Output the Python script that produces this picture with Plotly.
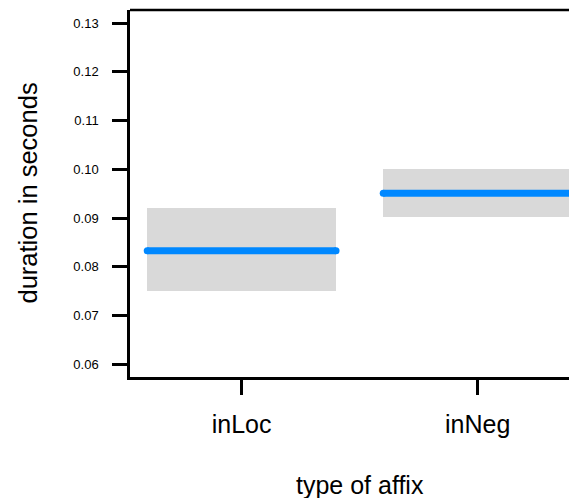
import plotly.graph_objects as go

categories = ["inLoc", "inNeg"]
fit = [0.0833, 0.0951]
lower = [0.0750, 0.0903]
upper = [0.0920, 0.1000]
y_ticks = [0.06, 0.07, 0.08, 0.09, 0.10, 0.11, 0.12, 0.13]
y_ticktext = ["0.06", "0.07", "0.08", "0.09", "0.10", "0.11", "0.12", "0.13"]

BAND = "#D9D9D9"
BLUE = "#0088FF"
HALF = 0.4

xpos = list(range(1, len(categories) + 1))

fig = go.Figure()
fig.add_trace(go.Bar(
    x=xpos,
    y=[u - l for u, l in zip(upper, lower)],
    base=lower,
    width=2 * HALF,
    marker=dict(color=BAND, line=dict(width=0)),
    hoverinfo="skip",
    showlegend=False,
))
for xi, f in zip(xpos, fit):
    fig.add_trace(go.Scatter(
        x=[xi - HALF, xi + HALF],
        y=[f, f],
        mode="lines+markers",
        line=dict(color=BLUE, width=7),
        marker=dict(color=BLUE, size=7, line=dict(width=0)),
        showlegend=False,
        hoverinfo="skip",
    ))

fig.add_shape(type="line", xref="paper", yref="paper", x0=0, x1=1, y0=1, y1=1,
              line=dict(color="black", width=2.5))

fig.add_annotation(text="duration in seconds", xref="paper", yref="paper",
                   x=-0.2304, y=0.5, textangle=-90, showarrow=False,
                   xanchor="center", yanchor="middle",
                   font=dict(size=25.5, color="black", family="Liberation Sans, Arial"))
fig.add_annotation(text="type of affix", xref="x", yref="paper",
                   x=1.5, y=-0.294, showarrow=False,
                   xanchor="center", yanchor="middle",
                   font=dict(size=25, color="black", family="Liberation Sans, Arial"))

fig.update_layout(
    width=569, height=490,
    margin=dict(l=122, r=0, t=2, b=121),
    plot_bgcolor="white", paper_bgcolor="white",
    font=dict(family="Liberation Sans, Arial", color="black"),
    bargap=0,
)
fig.update_xaxes(
    range=[0.527, 2.421],
    tickvals=xpos, ticktext=categories,
    ticks="outside", ticklen=15, tickwidth=2.5, tickcolor="black",
    showline=True, linewidth=2.5, linecolor="black",
    showgrid=False, zeroline=False,
    tickfont=dict(size=25, color="black"),
    ticklabelstandoff=8,
)
fig.update_yaxes(
    range=[0.0574, 0.1327],
    tickvals=y_ticks, ticktext=y_ticktext,
    ticks="outside", ticklen=15, tickwidth=2.5, tickcolor="black",
    showline=True, linewidth=2.5, linecolor="black",
    showgrid=False, zeroline=False,
    tickfont=dict(size=13, color="black"),
    ticklabelstandoff=11,
)

fig.write_html("out.html")
